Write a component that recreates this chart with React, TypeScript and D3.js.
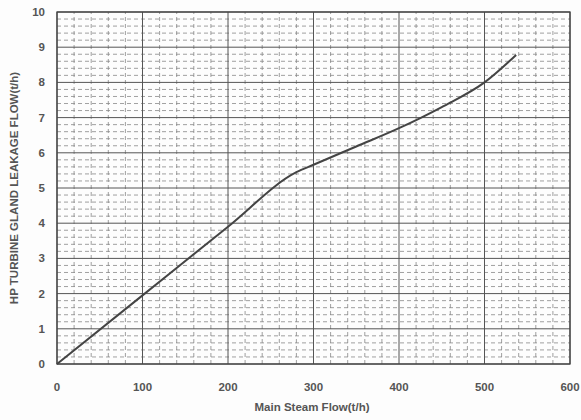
import React from "react";
import * as d3 from "d3";

const flowX = [0, 100, 200, 280, 300, 350, 400, 450, 500, 537];
const leakY = [0, 1.95, 3.9, 5.45, 5.66, 6.18, 6.7, 7.3, 8.0, 8.78];
const xTicks = [0, 100, 200, 300, 400, 500, 600];
const yTicks = [0, 1, 2, 3, 4, 5, 6, 7, 8, 9, 10];
const xMinor = d3.range(0, 601, 20);
const yMinor = d3.range(0, 10.01, 0.2);

export default function App() {
  const W = 581, H = 420;
  const x = d3.scaleLinear().domain([0, 600]).range([57, 570]);
  const y = d3.scaleLinear().domain([0, 10]).range([364, 12]);
  const pts = flowX.map((v, i) => [v, leakY[i]] as [number, number]);
  const line = d3.line<[number, number]>().x(d => x(d[0])).y(d => y(d[1])).curve(d3.curveMonotoneX);
  const font = "Arial, 'Liberation Sans', sans-serif";
  return (
    <svg width={W} height={H} style={{ position: "absolute", left: 0, top: 0, background: "#fff" }}>
      <rect x={0} y={0} width={W} height={H} fill="#fdfdfd" />
      {xMinor.filter(v => v % 100 !== 0).map(v => (
        <line key={"xm" + v} x1={x(v)} x2={x(v)} y1={y(0)} y2={y(10)} stroke="#888" strokeWidth={0.8} strokeDasharray="4,3" />
      ))}
      {yMinor.filter(v => Math.abs(v - Math.round(v)) > 0.01).map(v => (
        <line key={"ym" + v.toFixed(1)} x1={x(0)} x2={x(600)} y1={y(v)} y2={y(v)} stroke="#888" strokeWidth={0.8} strokeDasharray="4,3" />
      ))}
      {xTicks.map(v => (
        <line key={"xg" + v} x1={x(v)} x2={x(v)} y1={y(0)} y2={y(10)} stroke="#555" strokeWidth={1} />
      ))}
      {yTicks.map(v => (
        <line key={"yg" + v} x1={x(0)} x2={x(600)} y1={y(v)} y2={y(v)} stroke="#555" strokeWidth={1} />
      ))}
      <rect x={x(0)} y={y(10)} width={x(600) - x(0)} height={y(0) - y(10)} fill="none" stroke="#444" strokeWidth={1.3} />
      <path d={line(pts) || ""} fill="none" stroke="#444" strokeWidth={2} />
      {xTicks.map(v => (
        <text key={"xt" + v} x={x(v)} y={391} textAnchor="middle" fontFamily={font} fontSize={11.5} fontWeight="bold" fill="#555">{v}</text>
      ))}
      {yTicks.map(v => (
        <text key={"yt" + v} x={45} y={y(v) + 4} textAnchor="end" fontFamily={font} fontSize={11.5} fontWeight="bold" fill="#555">{v}</text>
      ))}
      <text x={312} y={411} textAnchor="middle" fontFamily={font} fontSize={11.5} fontWeight="bold" fill="#555">Main Steam Flow(t/h)</text>
      <text transform={`translate(18,${188}) rotate(-90)`} textAnchor="middle" fontFamily={font} fontSize={11.5} fontWeight="bold" fill="#555">HP TURBINE GLAND LEAKAGE FLOW(t/h)</text>
    </svg>
  );
}
